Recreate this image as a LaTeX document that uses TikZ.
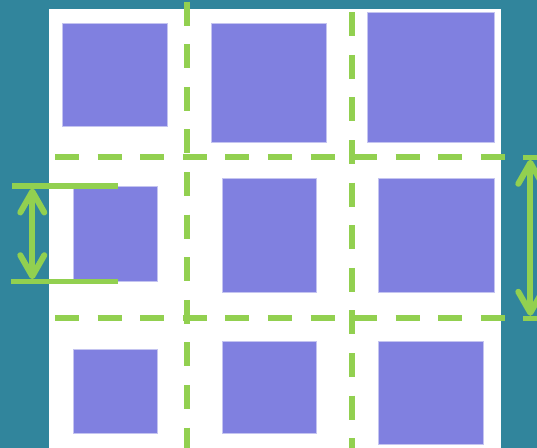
\documentclass[tikz,border=0pt]{standalone}
\usepackage{tikz}
\usetikzlibrary{arrows.meta}

\definecolor{seablue}{RGB}{49,133,156}
\definecolor{lime}{RGB}{146,208,80}
\definecolor{lilac}{RGB}{128,128,224}
\definecolor{lilacrim}{RGB}{196,196,240}

\begin{document}
\begin{tikzpicture}[
    x=0.02cm, y=-0.02cm,
    cell/.style={fill=lilac, draw=lilacrim, line width=0.5pt},
    grid/.style={draw=lime, line width=0.12cm, dash pattern=on 0.48cm off 0.372cm},
    bar/.style={draw=lime, line width=0.11cm},
    arr/.style={draw=lime, line width=0.12cm, line cap=round,
        {Straight Barb[length=0.42cm, width=0.48cm, round]}-{Straight Barb[length=0.42cm, width=0.48cm, round]}}
]
\useasboundingbox (0,0) rectangle (537,448);
\fill[seablue] (0,0) rectangle (537,448);
\fill[white] (49,9) rectangle (501,448);

% squares, row by row
\path[cell] (62,23) rectangle (167,126);
\path[cell] (211,23) rectangle (326,142);
\path[cell] (367,12) rectangle (494,142);
\path[cell] (73,186) rectangle (157,281);
\path[cell] (222,178) rectangle (316,292);
\path[cell] (378,178) rectangle (494,292);
\path[cell] (73,349) rectangle (157,433);
\path[cell] (222,341) rectangle (316,433);
\path[cell] (378,341) rectangle (483,444);

% dashed guide lines
\draw[grid] (187.3,1.7) -- (187.3,448);
\draw[grid] (351.7,12.3) -- (351.7,448);
\draw[grid] (55,157.3) -- (505,157.3);
\draw[grid] (55,318.3) -- (505,318.3);

% left measure
\draw[bar] (12,186) -- (117.5,186);
\draw[bar] (11,281.7) -- (117.5,281.7);
\coordinate (lt) at (32.3,188.5);
\coordinate (lb) at (32.3,279.2);
\draw[arr] (lt) -- (lb);

% right measure
\draw[bar] (523,157.3) -- (538,157.3);
\draw[bar] (523,318.3) -- (538,318.3);
\coordinate (rt) at (530.3,159.8);
\coordinate (rb) at (530.3,315.8);
\draw[arr] (rt) -- (rb);
\end{tikzpicture}
\end{document}
